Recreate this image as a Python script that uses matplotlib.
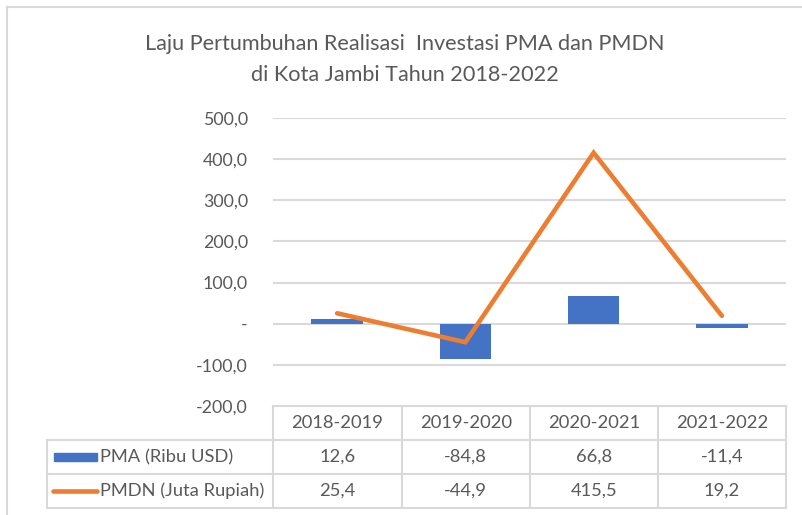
import matplotlib.pyplot as plt
from matplotlib.patches import Rectangle

categories = ['2018-2019', '2019-2020', '2020-2021', '2021-2022']
pma = [12.6, -84.8, 66.8, -11.4]
pmdn = [25.4, -44.9, 415.5, 19.2]
series_names = ['PMA (Ribu USD)', 'PMDN (Juta Rupiah)']
y_ticks = [-200, -100, 0, 100, 200, 300, 400, 500]
title_lines = ['Laju Pertumbuhan Realisasi  Investasi PMA dan PMDN',
               'di Kota Jambi Tahun 2018-2022']

BLUE = '#4472C4'
ORANGE = '#ED7D31'
GRID = '#D9D9D9'
TEXT = '#595959'
W, H = 802, 515
FS = 13.2

plt.rcParams['font.family'] = ['Lato', 'DejaVu Sans']


def fmt(v):
    if v == 0:
        return '-'
    return f'{v:.1f}'.replace('.', ',')


def make_chart():
    fig = plt.figure(figsize=(W / 100, H / 100), dpi=100)

    # overlay in pixel coordinates for frame, title and data table
    ov = fig.add_axes([0, 0, 1, 1])
    ov.set_xlim(0, W)
    ov.set_ylim(H, 0)
    ov.axis('off')

    # plot area
    left, right, top, bottom = 273, 786, 118, 406
    ax = fig.add_axes([left / W, 1 - bottom / H, (right - left) / W, (bottom - top) / H])
    x = list(range(len(categories)))
    ax.bar(x, pma, width=0.4, color=BLUE, zorder=2)
    ax.plot(x, pmdn, color=ORANGE, lw=3.3, solid_capstyle='round',
            solid_joinstyle='miter', zorder=3)
    ax.set_xlim(-0.5, len(categories) - 0.5)
    ax.set_ylim(-200, 500)
    ax.set_yticks(y_ticks)
    ax.set_yticklabels([fmt(t) for t in y_ticks])
    ax.set_xticks([])
    ax.tick_params(axis='y', length=0, pad=18, labelsize=12.8, labelcolor=TEXT)
    ax.grid(axis='y', color=GRID, lw=1.5, zorder=0)
    for s in ax.spines.values():
        s.set_visible(False)

    # outer chart frame
    ov.plot([7, W], [7, 7], color=GRID, lw=1.5)
    ov.plot([7, 7], [7, H], color=GRID, lw=1.5)

    # title
    ov.text(405, 44, title_lines[0], ha='center', va='center', fontsize=15.6, color=TEXT)
    ov.text(405, 75, title_lines[1], ha='center', va='center', fontsize=15.6, color=TEXT)

    # data table
    col_x = [273, 401.5, 530, 658, 786]
    row_y = [406, 440, 474, 508]
    tbl_left = 47
    ov.plot([col_x[0], col_x[-1]], [row_y[0], row_y[0]], color=GRID, lw=1.5)
    for yy in row_y[1:]:
        ov.plot([tbl_left, col_x[-1]], [yy, yy], color=GRID, lw=1.5)
    for xx in col_x:
        ov.plot([xx, xx], [row_y[0], row_y[-1]], color=GRID, lw=1.5)
    ov.plot([tbl_left, tbl_left], [row_y[1], row_y[-1]], color=GRID, lw=1.5)

    for i, cat in enumerate(categories):
        cx = (col_x[i] + col_x[i + 1]) / 2
        ov.text(cx, (row_y[0] + row_y[1]) / 2, cat, ha='center', va='center',
                fontsize=FS, color=TEXT)
        ov.text(cx, (row_y[1] + row_y[2]) / 2, fmt(pma[i]), ha='center', va='center',
                fontsize=FS, color=TEXT)
        ov.text(cx, (row_y[2] + row_y[3]) / 2, fmt(pmdn[i]), ha='center', va='center',
                fontsize=FS, color=TEXT)

    # legend keys in the table
    ov.add_patch(Rectangle((54, 453), 43, 8, color=BLUE))
    ov.plot([53, 97], [491, 491], color=ORANGE, lw=3.3, solid_capstyle='round')
    ov.text(100, (row_y[1] + row_y[2]) / 2, series_names[0], ha='left', va='center',
            fontsize=FS, color=TEXT)
    ov.text(100, (row_y[2] + row_y[3]) / 2, series_names[1], ha='left', va='center',
            fontsize=FS, color=TEXT)

    fig.savefig('out.png', dpi=100)


if __name__ == '__main__':
    make_chart()
